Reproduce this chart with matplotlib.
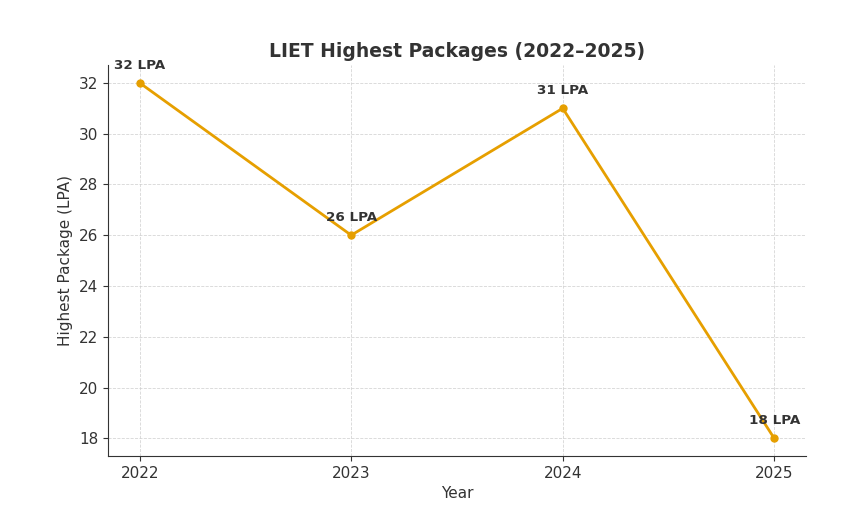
import matplotlib.pyplot as plt

years = [2022, 2023, 2024, 2025]
packages = [32, 26, 31, 18]
labels = ["32 LPA", "26 LPA", "31 LPA", "18 LPA"]

txt = '#333333'

fig = plt.figure(figsize=(8.47, 5.09), dpi=100)
ax = fig.add_axes([0.1275, 0.104, 0.824, 0.768])

ax.plot(years, packages, color='#E69F00', linewidth=2, marker='o', markersize=5)

for x, y, lab in zip(years, packages, labels):
    ax.annotate(lab, (x, y), xytext=(0, 8), textcoords='offset points',
                ha='center', va='bottom', fontsize=9.7, fontweight='bold', color=txt)

ax.set_xticks(years)
ax.set_title("LIET Highest Packages (2022\u20132025)", fontsize=13.5, fontweight='bold', color=txt)
ax.set_xlabel("Year", fontsize=11, color=txt)
ax.set_ylabel("Highest Package (LPA)", fontsize=11, color=txt)
ax.tick_params(labelsize=11, colors=txt)
ax.grid(True, linestyle='--', linewidth=0.6, color='#cccccc', alpha=0.8)
ax.set_axisbelow(True)

ax.spines['top'].set_visible(False)
ax.spines['right'].set_visible(False)
ax.spines['left'].set_color('#333333')
ax.spines['bottom'].set_color('#333333')

plt.savefig('out.png', dpi=100)
